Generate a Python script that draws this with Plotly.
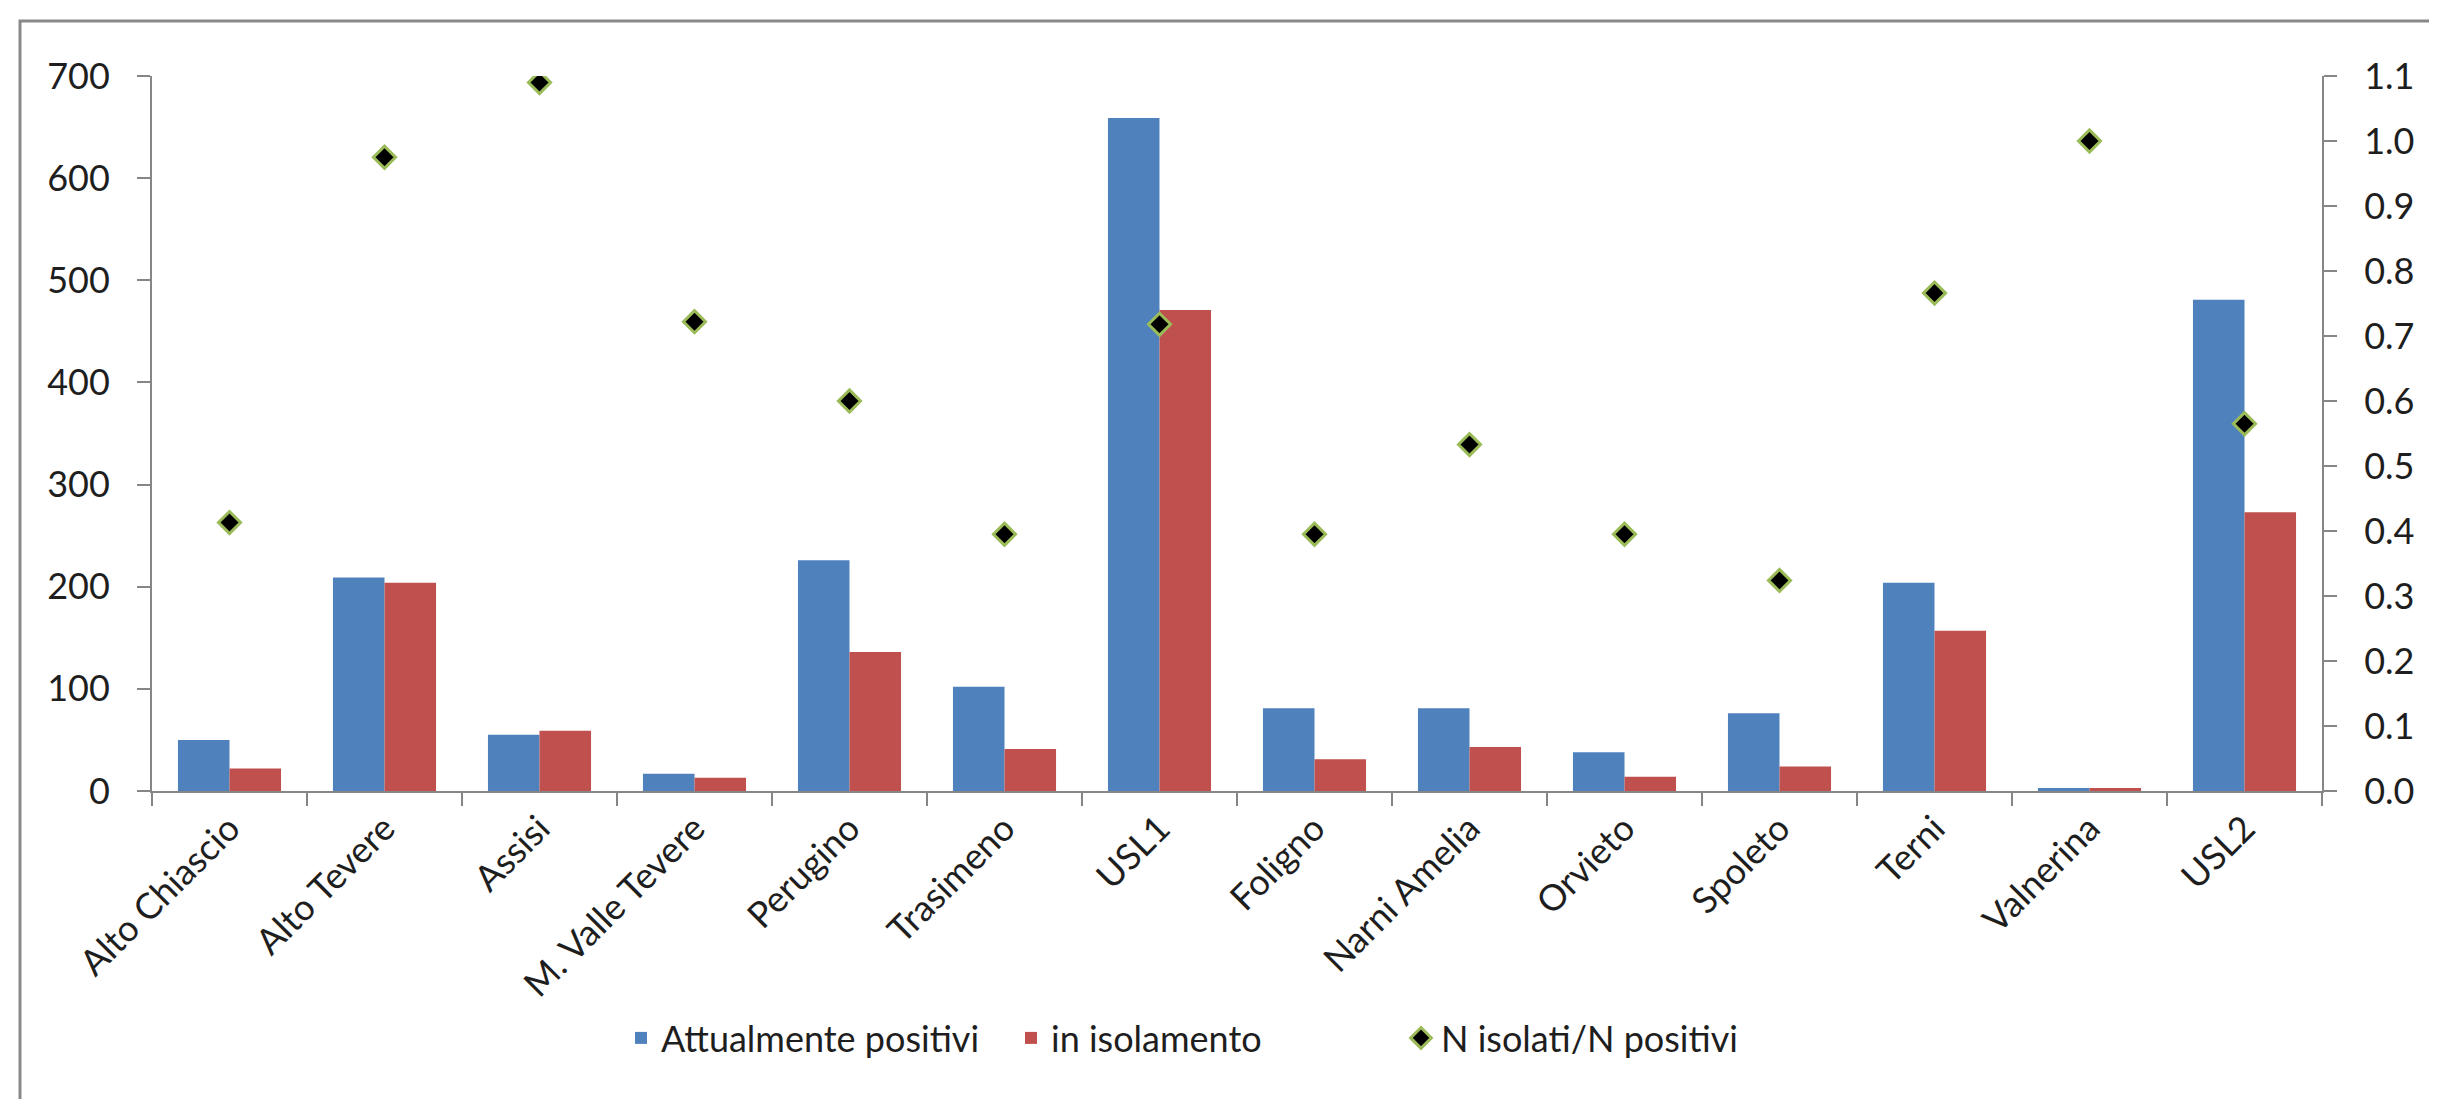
import plotly.graph_objects as go

categories = ["Alto Chiascio", "Alto Tevere", "Assisi", "M. Valle Tevere", "Perugino",
              "Trasimeno", "USL1", "Foligno", "Narni Amelia", "Orvieto", "Spoleto",
              "Terni", "Valnerina", "USL2"]
attualmente_positivi = [50, 209, 55, 17, 226, 102, 659, 81, 81, 38, 76, 204, 3, 481]
in_isolamento = [22, 204, 59, 13, 136, 41, 471, 31, 43, 14, 24, 157, 3, 273]
rapporto = [0.413, 0.975, 1.090, 0.722, 0.600, 0.395, 0.718, 0.395, 0.533, 0.395,
            0.324, 0.766, 1.000, 0.565]

left_ticks = [0, 100, 200, 300, 400, 500, 600, 700]
right_ticks = [0.0, 0.1, 0.2, 0.3, 0.4, 0.5, 0.6, 0.7, 0.8, 0.9, 1.0, 1.1]

FONT = "Lato, 'Open Sans', sans-serif"
TXT = "#1e1e1e"
AX = "#868686"
FS = 36

W, H = 2437, 1099
L, R, T, B = 144, 123, 68, 316
pw, ph = W - L - R, H - T - B


def px_x(p):
    return (p - L) / pw


def px_y(p):
    return (H - B - p) / ph


fig = go.Figure()
fig.add_trace(go.Bar(x=categories, y=attualmente_positivi, name="Attualmente positivi",
                     marker=dict(color="#4F81BD", line=dict(width=0))))
fig.add_trace(go.Bar(x=categories, y=in_isolamento, name="in isolamento",
                     marker=dict(color="#C0504D", line=dict(width=0))))
fig.add_trace(go.Scatter(x=categories, y=rapporto, name="N isolati/N positivi", yaxis="y2",
                         mode="markers",
                         marker=dict(symbol="diamond", size=17, color="black",
                                     line=dict(color="#9BBB59", width=3))))

axis_common = dict(showgrid=False, showline=True, linecolor=AX, linewidth=2,
                   ticks="outside", ticklen=13, tickcolor=AX, tickwidth=2,
                   tickfont=dict(size=FS, color=TXT), zeroline=False)

fig.update_layout(
    width=W, height=H,
    margin=dict(l=L, r=R, t=T, b=B, autoexpand=False),
    paper_bgcolor="white", plot_bgcolor="white",
    font=dict(family=FONT, size=FS, color=TXT),
    barmode="group", bargap=0.335, bargroupgap=0,
    showlegend=True,
    legend=dict(orientation="h", x=px_x(613), y=px_y(1030), xanchor="left",
                yanchor="middle", font=dict(size=FS, color=TXT), itemwidth=30,
                entrywidth=345, entrywidthmode="pixels",
                traceorder="normal", bgcolor="rgba(0,0,0,0)"),
    xaxis=dict(type="category", range=[-0.5, len(categories) - 0.5], tickangle=-45,
               tickson="boundaries", **axis_common),
    yaxis=dict(range=[0, 700], tickvals=left_ticks, ticklabelstandoff=20, **axis_common),
    yaxis2=dict(range=[0, 1.1], tickvals=right_ticks, tickformat=".1f", overlaying="y",
                side="right", ticklabelstandoff=20, **axis_common),
)

fig.add_shape(type="rect", xref="paper", yref="paper",
              x0=px_x(12), x1=px_x(2434), y0=px_y(1104), y1=px_y(13),
              line=dict(color="#898989", width=3), fillcolor="rgba(0,0,0,0)", layer="below")

fig.write_html("out.html")
